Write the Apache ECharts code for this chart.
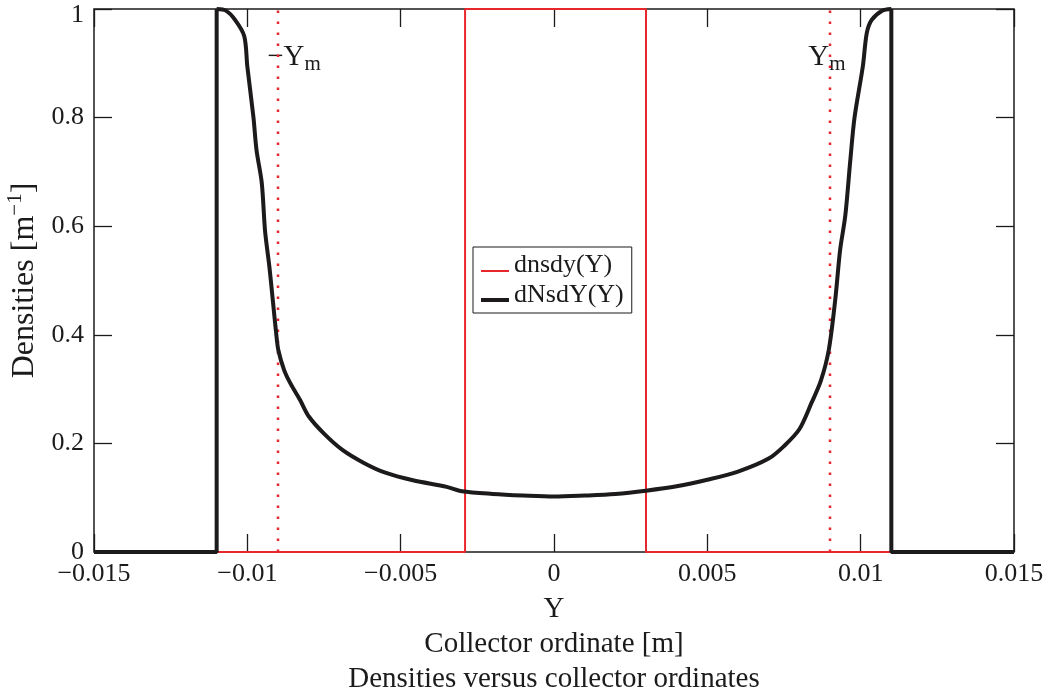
<!DOCTYPE html>
<html>
<head>
<meta charset="utf-8">
<script src="https://cdn.jsdelivr.net/npm/echarts@6/dist/echarts.min.js"></script>
<style>
  html, body { margin: 0; padding: 0; background: #fff; }
  #chart { width: 1046px; height: 695px; }
</style>
</head>
<body>
<div id="chart"></div>
<script>
// collector ordinate Y [m] and densities
const blackX = [-0.015, -0.011, -0.011, -0.0107, -0.0104, -0.0101, -0.01, -0.0098, -0.0097, -0.00953,
  -0.00942, -0.00928, -0.00917, -0.00906, -0.00899, -0.0088, -0.0086, -0.00828, -0.008, -0.0075,
  -0.0069, -0.0062, -0.0055, -0.0046, -0.0035, -0.003, -0.002, -0.001, 0,
  0.001, 0.002, 0.003, 0.004, 0.005, 0.006, 0.007, 0.0075, 0.008, 0.0084,
  0.0087, 0.00896, 0.00917, 0.00933, 0.0095, 0.00966, 0.0098, 0.01007, 0.0102, 0.01036,
  0.0107, 0.011, 0.011, 0.015]
const blackY = [0, 0, 1, 0.997, 0.98, 0.95, 0.894, 0.8, 0.74, 0.68,
  0.59, 0.525, 0.464, 0.403, 0.372, 0.335, 0.311, 0.28, 0.25, 0.218,
  0.188, 0.164, 0.146, 0.132, 0.12, 0.112, 0.107, 0.104, 0.102,
  0.104, 0.107, 0.113, 0.121, 0.133, 0.148, 0.172, 0.195, 0.226, 0.275,
  0.315, 0.372, 0.464, 0.556, 0.62, 0.72, 0.8, 0.894, 0.956, 0.98,
  0.997, 1, 0, 0]
const redX = [-0.015, -0.0029, -0.0029, 0.003, 0.003, 0.015]
const redY = [0, 0, 1, 1, 0, 0]
const ym = 0.009
const xTicks = { min: -0.015, max: 0.015, interval: 0.005 }
const yTicks = { min: 0, max: 1, interval: 0.2 }

const FONT = '"Liberation Serif", "DejaVu Serif", serif'
const RED = '#e8272d'
const INK = '#1c1a1a'

const fmtX = (v) => {
  const n = parseFloat(v.toFixed(4))
  return n < 0 ? '\u2212' + String(-n) : String(n)
}
// top label sits a little below its tick so it is not cut off
const fmtY = (v) => (v === yTicks.max ? '{top|' + v + '}' : String(v))
const pairs = (xs, ys) => xs.map((x, i) => [x, ys[i]])
const blackPts = pairs(blackX, blackY)
const last = blackPts.length - 1
// vertical walls drawn straight, the curve between them smoothed
const wallL = blackPts.slice(0, 3)
const curve = blackPts.slice(2, last - 1)
const wallR = blackPts.slice(last - 2)

const tick = { show: true, inside: true, length: 18, lineStyle: { color: INK, width: 1.3 } }
const noLine = { show: false, onZero: false }
const chart = echarts.init(document.getElementById('chart'))
chart.setOption({
  animation: false,
  textStyle: { fontFamily: FONT },
  grid: {
    left: 94, right: 32, top: 9, bottom: 143,
    outerBoundsMode: 'none',
    show: true, borderColor: INK, borderWidth: 1.5
  },
  legend: {
    data: [
      { name: 'dnsdy(Y)', icon: 'path://M0,0L0.05,0L0.05,0.05L0,0.05ZM0,12L28,12L28,14L0,14Z' },
      { name: 'dNsdY(Y)', icon: 'path://M0,0L0.05,0L0.05,0.05L0,0.05ZM0,10L28,10L28,14L0,14Z' }
    ],
    orient: 'vertical',
    left: 473, top: 247,
    padding: [5, 8, 5, 8],
    itemGap: 4,
    itemWidth: 28,
    itemHeight: 14,
    itemTextGap: 8,
    borderColor: INK, borderWidth: 1,
    backgroundColor: '#fff',
    textStyle: { fontFamily: FONT, fontSize: 26, color: INK }
  },
  xAxis: [
    {
      type: 'value', position: 'bottom', ...xTicks,
      axisLine: noLine, splitLine: { show: false }, axisTick: tick,
      axisLabel: { fontFamily: FONT, fontSize: 26, color: INK, margin: 9, formatter: fmtX },
      name: 'Y\nCollector ordinate [m]\nDensities versus collector ordinates',
      nameLocation: 'middle', nameGap: 37,
      nameTextStyle: { fontFamily: FONT, fontSize: 29, color: INK, lineHeight: 35, verticalAlign: 'top' }
    },
    {
      type: 'value', position: 'top', ...xTicks,
      axisLine: noLine, splitLine: { show: false }, axisTick: tick, axisLabel: { show: false }
    }
  ],
  yAxis: [
    {
      type: 'value', position: 'left', ...yTicks,
      axisLine: noLine, splitLine: { show: false }, axisTick: tick,
      axisLabel: {
        fontFamily: FONT, fontSize: 26, color: INK, margin: 10, formatter: fmtY,
        rich: { top: { fontFamily: FONT, fontSize: 26, color: INK, padding: [12, 0, 0, 0] } }
      },
      name: '{t|Densities [m}{s|\u22121}{t|]}',
      nameLocation: 'middle', nameRotate: 90, nameGap: 50,
      nameTextStyle: {
        rich: {
          t: { fontFamily: FONT, fontSize: 32, color: INK, verticalAlign: 'bottom', lineHeight: 36 },
          s: { fontFamily: FONT, fontSize: 21, color: INK, verticalAlign: 'top', lineHeight: 36 }
        }
      }
    },
    {
      type: 'value', position: 'right', ...yTicks,
      axisLine: noLine, splitLine: { show: false }, axisTick: tick, axisLabel: { show: false }
    }
  ],
  series: [
    {
      name: 'ym-left', type: 'line', symbol: 'none', silent: true,
      data: [[-ym, 0], [-ym, 1]],
      lineStyle: { color: RED, width: 2.5, type: [2.5, 8.5] }
    },
    {
      name: 'ym-right', type: 'line', symbol: 'none', silent: true,
      data: [[ym, 0], [ym, 1]],
      lineStyle: { color: RED, width: 2.5, type: [2.5, 8.5] }
    },
    {
      name: 'dnsdy(Y)', type: 'line', symbol: 'none', color: RED,
      data: pairs(redX, redY),
      lineStyle: { color: RED, width: 2 }
    },
    {
      name: 'dNsdY(Y)', type: 'line', symbol: 'none', color: INK,
      data: wallL,
      lineStyle: { color: INK, width: 4 }
    },
    {
      name: 'dNsdY(Y)', type: 'line', symbol: 'none', color: INK,
      data: curve, smooth: 0.3,
      lineStyle: { color: INK, width: 4, join: 'round' }
    },
    {
      name: 'dNsdY(Y)', type: 'line', symbol: 'none', color: INK,
      data: wallR,
      lineStyle: { color: INK, width: 4 }
    },
    {
      name: 'labels', type: 'scatter', symbolSize: 0, silent: true,
      itemStyle: { opacity: 1 },
      data: [
        { value: [-ym, 0.91], label: { formatter: '{n|\u2212Y}{s|m}', offset: [16, 0] } },
        { value: [ym, 0.91], label: { formatter: '{n|Y}{s|m}', offset: [-3, 0] } }
      ],
      label: {
        show: true, position: 'inside', opacity: 1,
        rich: {
          n: { fontFamily: FONT, fontSize: 29, color: INK, verticalAlign: 'top', lineHeight: 30 },
          s: { fontFamily: FONT, fontSize: 21, color: INK, verticalAlign: 'bottom', lineHeight: 30, padding: [0, 0, -2, 0] }
        }
      }
    }
  ]
})
</script>
</body>
</html>
